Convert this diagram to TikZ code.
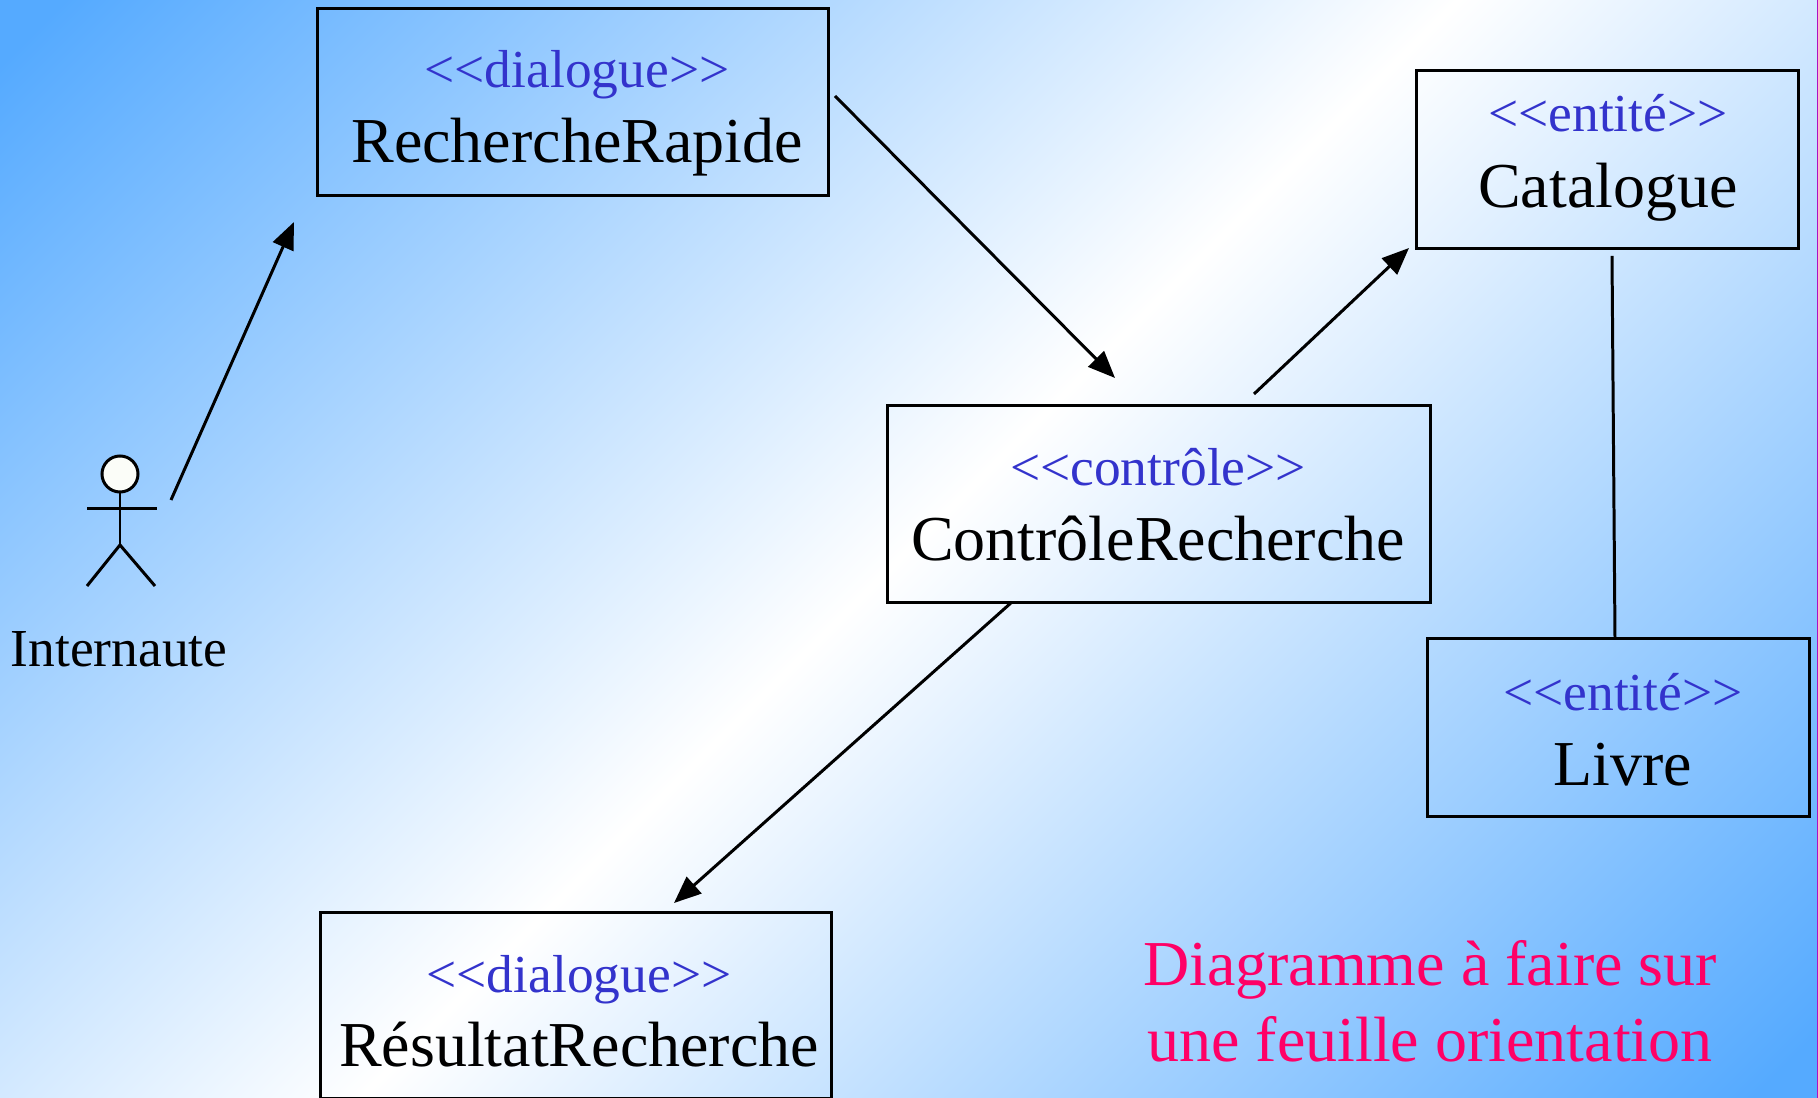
\documentclass[tikz,border=0pt]{standalone}
\usepackage{fontspec}
\setmainfont{Liberation Serif}
\usetikzlibrary{arrows.meta}

\definecolor{fond}{HTML}{55AAFF}
\definecolor{stereo}{HTML}{3333CC}
\definecolor{rose}{HTML}{FF0066}
\definecolor{tete}{HTML}{FBFDF8}
\definecolor{bord}{HTML}{B010C0}

\pgfdeclarehorizontalshading{fondu}{100bp}{color(0bp)=(fond); color(16bp)=(fond); color(50bp)=(white); color(84bp)=(fond); color(100bp)=(fond)}

\tikzset{
    boite/.style={draw=black, line width=0.85pt, rectangle, inner sep=0pt, outer sep=0pt},
    stereotype/.style={text=stereo, anchor=base, inner sep=0pt, font=\fontsize{15.2pt}{18pt}\selectfont},
    nom/.style={anchor=base, inner sep=0pt, font=\fontsize{18.2pt}{22pt}\selectfont},
    trait/.style={line width=0.85pt},
    fleche/.style={trait, -{Triangle[length=0.27cm,width=0.22cm]}}
}

\begin{document}
\begin{tikzpicture}[x=0.01cm, y=-0.01cm]
            \useasboundingbox (0,0) rectangle (1818,1098);
            \shade[shading=fondu, shading angle=-45] (0,0) rectangle (1818,1098);
            \draw[bord, line width=0.3pt] (1817.5,0) -- (1817.5,1098);

            \node (rapide) [boite, minimum width=5.10cm, minimum height=1.86cm] at (573,102) {};
            \node (cata) [boite, minimum width=3.81cm, minimum height=1.77cm] at (1607.5,159.5) {};
            \node (controle) [boite, minimum width=5.42cm, minimum height=1.96cm] at (1159,504) {};
            \node (livre) [boite, minimum width=3.81cm, minimum height=1.77cm] at (1618.5,727.5) {};
            \node (resultat) [boite, minimum width=5.10cm, minimum height=1.85cm] at (576,1005.5) {};

            \node (srapide) [stereotype] at (577,88) {<{}<dialogue>{}>};
            \node (nrapide) [nom] at (577,163) {RechercheRapide};
            \node (scata) [stereotype] at (1608,132) {<{}<entité>{}>};
            \node (ncata) [nom] at (1608,208) {Catalogue};
            \node (scontrole) [stereotype] at (1158,486) {<{}<contrôle>{}>};
            \node (ncontrole) [nom] at (1158,561) {ContrôleRecherche};
            \node (slivre) [stereotype] at (1623,711) {<{}<entité>{}>};
            \node (nlivre) [nom] at (1623,786) {Livre};
            \node (sresultat) [stereotype] at (579,992) {<{}<dialogue>{}>};
            \node (nresultat) [nom] at (579,1067) {RésultatRecherche};

            % acteur
            \node (tete) [draw=black, trait, fill=tete, circle, inner sep=0pt, outer sep=0pt, minimum size=0.36cm] at (120,474) {};
            \coordinate (bassin) at (120,545);
            \coordinate (brasg) at (87,509);
            \coordinate (brasd) at (157,509);
            \coordinate (piedg) at (87,586);
            \coordinate (piedd) at (155,586);
            \node (acteur) [nom, font=\fontsize{15.2pt}{19pt}\selectfont] at (119,667) {Internaute};
            \draw[trait] (tete) -- (bassin);
            \draw[trait] (brasg) -- (brasd);
            \draw[trait] (piedg) -- (bassin) -- (piedd);

            \coordinate (a1) at (171,500);
            \coordinate (a2) at (294,222);
            \coordinate (b1) at (835,96);
            \coordinate (b2) at (1115,378);
            \coordinate (c1) at (1254,394);
            \coordinate (c2) at (1409,248);
            \coordinate (d1) at (1012,602);
            \coordinate (d2) at (674,903);
            \coordinate (e1) at (1612,256);
            \coordinate (e2) at (1615,639);

            \draw[fleche] (a1) -- (a2);
            \draw[fleche] (b1) -- (b2);
            \draw[fleche] (c1) -- (c2);
            \draw[fleche] (d1) -- (d2);
            \draw[trait] (e1) -- (e2);

            \node (note1) [nom, text=rose] at (1430,985) {Diagramme à faire sur};
            \node (note2) [nom, text=rose] at (1430,1061) {une feuille orientation};
        \end{tikzpicture}
\end{document}
